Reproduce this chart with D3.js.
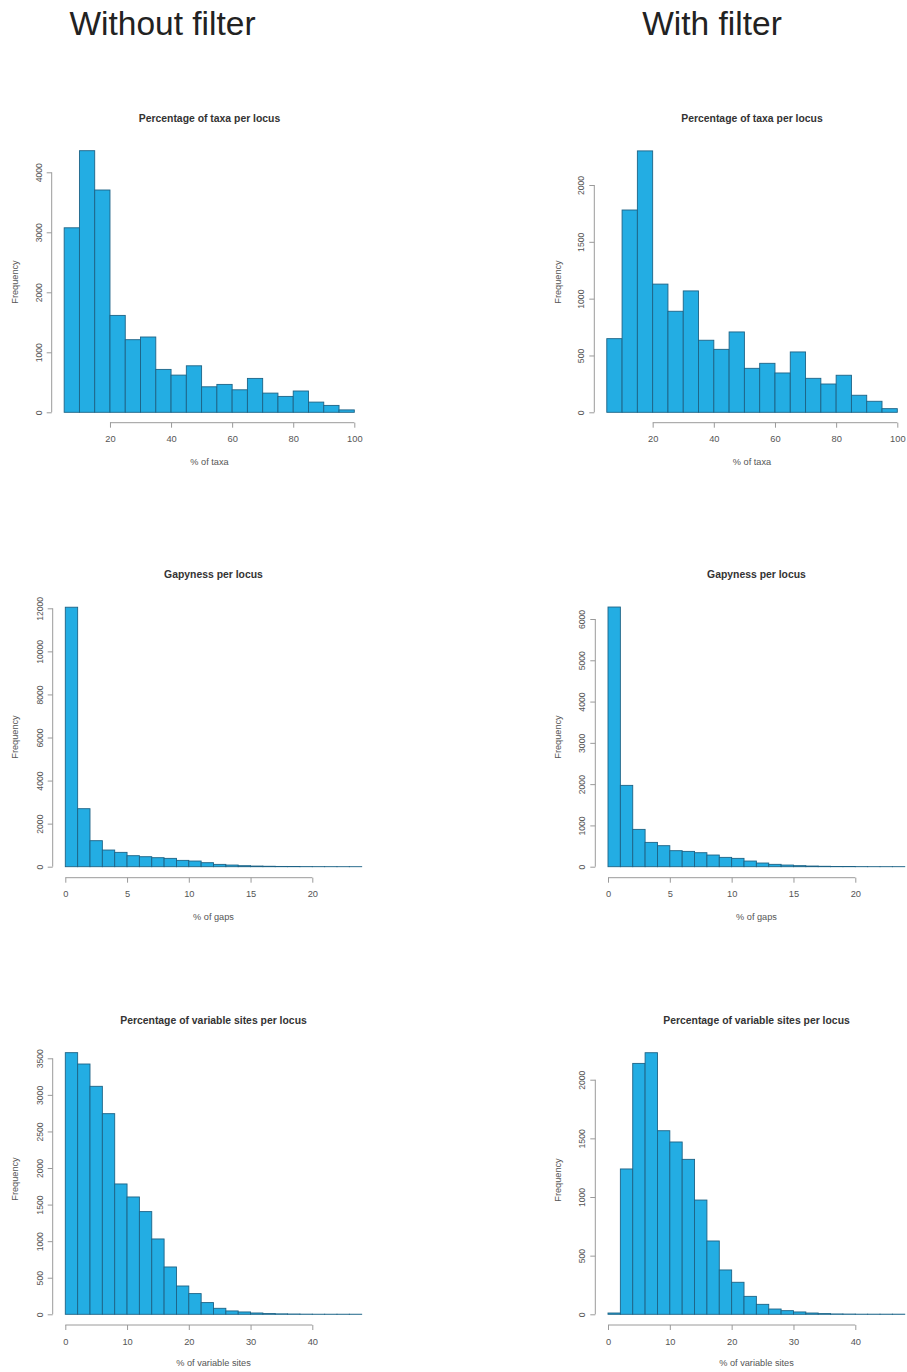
<!DOCTYPE html>
<html>
<head>
<meta charset="utf-8">
<script src="https://cdn.jsdelivr.net/npm/d3@7"></script>
<style>
  html, body { margin: 0; padding: 0; background: #fff; }
  svg { display: block; font-family: "Liberation Sans", Arial, Helvetica, sans-serif; }
</style>
</head>
<body>
<svg id="chart" width="907" height="1372"></svg>
<script>
// Column headers
const columnTitles = ["Without filter", "With filter"];

// Histogram bin edges
const taxaBreaks = [5, 10, 15, 20, 25, 30, 35, 40, 45, 50, 55, 60, 65, 70, 75, 80, 85, 90, 95, 100];
const gapBreaks = [0, 1, 2, 3, 4, 5, 6, 7, 8, 9, 10, 11, 12, 13, 14, 15, 16, 17, 18, 19, 20, 21, 22, 23, 24];
const varBreaks = [0, 2, 4, 6, 8, 10, 12, 14, 16, 18, 20, 22, 24, 26, 28, 30, 32, 34, 36, 38, 40, 42, 44, 46, 48];

// Counts per bin
const taxaCountsRaw = [3075, 4360, 3705, 1615, 1210, 1255, 715, 620, 775, 425, 465, 375, 565, 320, 265, 355, 170, 115, 40];
const taxaCountsFiltered = [648, 1780, 2300, 1128, 889, 1068, 634, 554, 707, 387, 431, 346, 531, 299, 249, 326, 150, 97, 32];
const gapCountsRaw = [12050, 2694, 1208, 774, 666, 511, 464, 418, 387, 294, 263, 186, 108, 77, 46, 30, 20, 12, 8, 5, 3, 2, 1, 1];
const gapCountsFiltered = [6290, 1970, 904, 589, 509, 388, 371, 339, 283, 226, 202, 137, 89, 57, 40, 25, 16, 10, 6, 4, 2, 1, 1, 1];
const varCountsRaw = [3577, 3422, 3117, 2743, 1782, 1604, 1404, 1030, 647, 387, 283, 160, 82, 46, 32, 18, 10, 6, 4, 2, 1, 1, 1, 1];
const varCountsFiltered = [11, 1239, 2139, 2230, 1565, 1469, 1321, 974, 625, 378, 273, 153, 85, 45, 31, 20, 11, 6, 3, 2, 1, 1, 1, 1];

// Axis tick values
const taxaXTicks = [20, 40, 60, 80, 100];
const gapXTicks = [0, 5, 10, 15, 20];
const varXTicks = [0, 10, 20, 30, 40];
const taxaYTicksRaw = [0, 1000, 2000, 3000, 4000];
const taxaYTicksFiltered = [0, 500, 1000, 1500, 2000];
const gapYTicksRaw = [0, 2000, 4000, 6000, 8000, 10000, 12000];
const gapYTicksFiltered = [0, 1000, 2000, 3000, 4000, 5000, 6000];
const varYTicksRaw = [0, 500, 1000, 1500, 2000, 2500, 3000, 3500];
const varYTicksFiltered = [0, 500, 1000, 1500, 2000];

// Panel titles and axis titles
const panelTitles = ["Percentage of taxa per locus", "Gapyness per locus", "Percentage of variable sites per locus"];
const xTitles = ["% of taxa", "% of gaps", "% of variable sites"];
const yTitle = "Frequency";

// Layout of each panel (pixel geometry)
const panels = [
  { breaks: taxaBreaks, counts: taxaCountsRaw, xTicks: taxaXTicks, yTicks: taxaYTicksRaw, title: panelTitles[0], xTitle: xTitles[0],
    xDom: [0, 100], xRange: [48.9, 354.3], yRange: [412.3, 172.3], yAxisX: 51.7, xAxisY: 422.7, titleY: 121.5, titleX: 209.5, xTitleY: 464.5, yTitleX: 18, yTitleY: 282 },
  { breaks: taxaBreaks, counts: taxaCountsFiltered, xTicks: taxaXTicks, yTicks: taxaYTicksFiltered, title: panelTitles[0], xTitle: xTitles[0],
    xDom: [0, 100], xRange: [591.5, 897.3], yRange: [412.3, 185.0], yAxisX: 594.3, xAxisY: 422.7, titleY: 121.5, titleX: 752, xTitleY: 464.5, yTitleX: 561, yTitleY: 282 },
  { breaks: gapBreaks, counts: gapCountsRaw, xTicks: gapXTicks, yTicks: gapYTicksRaw, title: panelTitles[1], xTitle: xTitles[1],
    xDom: [0, 20], xRange: [65.3, 312.3], yRange: [866.7, 608.3], yAxisX: 52.7, xAxisY: 877.7, titleY: 577.5, titleX: 213.5, xTitleY: 919.5, yTitleX: 18, yTitleY: 737 },
  { breaks: gapBreaks, counts: gapCountsFiltered, xTicks: gapXTicks, yTicks: gapYTicksFiltered, title: panelTitles[1], xTitle: xTitles[1],
    xDom: [0, 20], xRange: [608.0, 855.3], yRange: [866.7, 619.0], yAxisX: 595.3, xAxisY: 877.7, titleY: 577.5, titleX: 756.5, xTitleY: 919.5, yTitleX: 561, yTitleY: 737 },
  { breaks: varBreaks, counts: varCountsRaw, xTicks: varXTicks, yTicks: varYTicksRaw, title: panelTitles[2], xTitle: xTitles[2],
    xDom: [0, 40], xRange: [65.3, 312.3], yRange: [1314.3, 1058.3], yAxisX: 52.7, xAxisY: 1325.0, titleY: 1023.5, titleX: 213.5, xTitleY: 1366, yTitleX: 18, yTitleY: 1179 },
  { breaks: varBreaks, counts: varCountsFiltered, xTicks: varXTicks, yTicks: varYTicksFiltered, title: panelTitles[2], xTitle: xTitles[2],
    xDom: [0, 40], xRange: [608.0, 855.3], yRange: [1314.3, 1079.7], yAxisX: 595.3, xAxisY: 1325.0, titleY: 1023.5, titleX: 756.5, xTitleY: 1366, yTitleX: 561, yTitleY: 1180 }
];

const BAR_FILL = "#23ade3";
const BAR_STROKE = "#1d6386";
const AXIS_COLOR = "#9a9a9a";
const LABEL_COLOR = "#555";

const svg = d3.select("#chart");

// Column headers
svg.selectAll("text.column-title")
  .data(columnTitles)
  .join("text")
  .attr("class", "column-title")
  .attr("x", (d, i) => i === 0 ? 162.5 : 712)
  .attr("y", 35)
  .attr("text-anchor", "middle")
  .attr("font-size", 33.5)
  .attr("fill", "#222")
  .text(d => d);

panels.forEach(p => {
  const g = svg.append("g");
  const x = d3.scaleLinear().domain(p.xDom).range(p.xRange);
  const yMax = p.yTicks[p.yTicks.length - 1];
  const y = d3.scaleLinear().domain([0, yMax]).range(p.yRange);

  const bins = p.counts.map((c, i) => ({ x0: p.breaks[i], x1: p.breaks[i + 1], n: c }));

  // Bars
  g.selectAll("rect")
    .data(bins)
    .join("rect")
    .attr("x", d => x(d.x0))
    .attr("width", d => x(d.x1) - x(d.x0))
    .attr("y", d => y(d.n))
    .attr("height", d => y(0) - y(d.n))
    .attr("fill", BAR_FILL)
    .attr("stroke", BAR_STROKE)
    .attr("stroke-width", 0.9);

  // X axis
  const xAxis = d3.axisBottom(x)
    .tickValues(p.xTicks)
    .tickSize(5)
    .tickPadding(8)
    .tickFormat(d3.format("d"));
  const xg = g.append("g")
    .attr("transform", `translate(0,${p.xAxisY})`)
    .call(xAxis);
  xg.select(".domain")
    .attr("d", `M${x(p.xTicks[0])},0H${x(p.xTicks[p.xTicks.length - 1])}`)
    .attr("stroke", AXIS_COLOR);
  xg.selectAll(".tick line").attr("stroke", AXIS_COLOR);
  xg.selectAll(".tick text")
    .attr("font-size", 9.3)
    .attr("fill", LABEL_COLOR)
    .attr("font-family", "Liberation Sans, Arial, sans-serif");

  // Y axis (labels parallel to the axis)
  const yAxis = d3.axisLeft(y)
    .tickValues(p.yTicks)
    .tickSize(5)
    .tickFormat(d3.format("d"));
  const yg = g.append("g")
    .attr("transform", `translate(${p.yAxisX},0)`)
    .call(yAxis);
  yg.select(".domain")
    .attr("d", `M0,${y(0)}V${y(yMax)}`)
    .attr("stroke", AXIS_COLOR);
  yg.selectAll(".tick line").attr("stroke", AXIS_COLOR);
  yg.selectAll(".tick text")
    .attr("x", null)
    .attr("dy", null)
    .attr("transform", "translate(-10,0) rotate(-90)")
    .attr("text-anchor", "middle")
    .attr("font-size", 8.6)
    .attr("fill", LABEL_COLOR)
    .attr("font-family", "Liberation Sans, Arial, sans-serif");

  // Panel title
  g.append("text")
    .attr("x", p.titleX)
    .attr("y", p.titleY)
    .attr("text-anchor", "middle")
    .attr("font-size", 10.4)
    .attr("font-weight", "bold")
    .attr("fill", "#333")
    .text(p.title);

  // Axis titles
  g.append("text")
    .attr("x", p.titleX)
    .attr("y", p.xTitleY)
    .attr("text-anchor", "middle")
    .attr("font-size", 9.2)
    .attr("fill", LABEL_COLOR)
    .text(p.xTitle);

  g.append("text")
    .attr("transform", `translate(${p.yTitleX},${p.yTitleY}) rotate(-90)`)
    .attr("text-anchor", "middle")
    .attr("font-size", 9.2)
    .attr("fill", LABEL_COLOR)
    .text(yTitle);
});
</script>
</body>
</html>
